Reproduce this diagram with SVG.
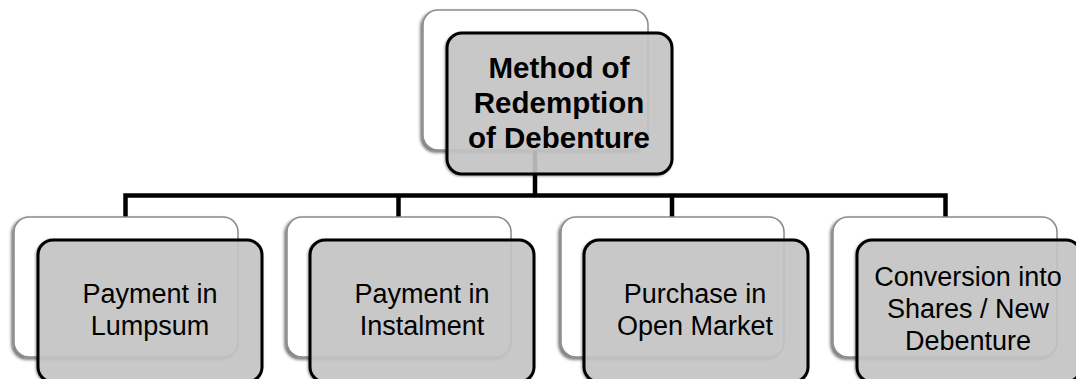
<svg xmlns="http://www.w3.org/2000/svg" width="1076" height="379" viewBox="0 0 1076 379">
  <defs>
    <filter id="sh" x="-10%" y="-10%" width="120%" height="125%">
      <feDropShadow dx="-2" dy="2" stdDeviation="1.5" flood-color="#000" flood-opacity="0.55"/>
    </filter>
    <filter id="sh2" x="-10%" y="-10%" width="120%" height="125%">
      <feDropShadow dx="-1" dy="1" stdDeviation="1" flood-color="#000" flood-opacity="0.35"/>
    </filter>
  </defs>
  <style>
    .back { fill: #ffffff; stroke: #8a8a8a; stroke-width: 1.5; filter: url(#sh); }
    .front { fill: #c6c6c6; fill-opacity: 0.88; stroke: #000; stroke-width: 3; filter: url(#sh2); }
    .conn { fill: none; stroke: #000; stroke-width: 4.5; stroke-linejoin: miter; }
    .t { font-family: "Liberation Sans", Arial, sans-serif; font-size: 27px; fill: #000; text-anchor: middle; }
    .tb { font-family: "Liberation Sans", Arial, sans-serif; font-size: 29.5px; font-weight: bold; fill: #000; text-anchor: middle; }
  </style>
  <rect width="1076" height="379" fill="#fff"/>
  <g id="connectors">
    <path class="conn" d="M535 150 V195.5"/>
    <path class="conn" d="M125.5 218 V195.5 H945.5 V218"/>
    <path class="conn" d="M398.5 195.5 V218"/>
    <path class="conn" d="M672 195.5 V218"/>
  </g>
  <g id="root">
    <rect class="back" x="423" y="10" width="225" height="140" rx="15"/>
    <rect class="front" x="447" y="33" width="225" height="141" rx="15"/>
    <text class="tb" x="559" y="78">Method of</text>
    <text class="tb" x="559" y="113">Redemption</text>
    <text class="tb" x="559" y="148">of Debenture</text>
  </g>
  <g id="lumpsum">
    <rect class="back" x="14" y="217" width="224" height="140" rx="15"/>
    <rect class="front" x="38" y="240" width="224" height="142" rx="15"/>
    <text class="t" x="150" y="303">Payment in</text>
    <text class="t" x="150" y="335">Lumpsum</text>
  </g>
  <g id="instalment">
    <rect class="back" x="287" y="217" width="224" height="140" rx="15"/>
    <rect class="front" x="310" y="240" width="224" height="142" rx="15"/>
    <text class="t" x="422" y="303">Payment in</text>
    <text class="t" x="422" y="335">Instalment</text>
  </g>
  <g id="openmarket">
    <rect class="back" x="561" y="217" width="223" height="140" rx="15"/>
    <rect class="front" x="584" y="240" width="224" height="142" rx="15"/>
    <text class="t" x="695" y="303">Purchase in</text>
    <text class="t" x="695" y="335">Open Market</text>
  </g>
  <g id="conversion">
    <rect class="back" x="833" y="217" width="224" height="140" rx="15"/>
    <rect class="front" x="857" y="240" width="224" height="142" rx="15"/>
    <text class="t" x="968" y="286">Conversion into</text>
    <text class="t" x="968" y="318">Shares / New</text>
    <text class="t" x="968" y="350">Debenture</text>
  </g>
</svg>
